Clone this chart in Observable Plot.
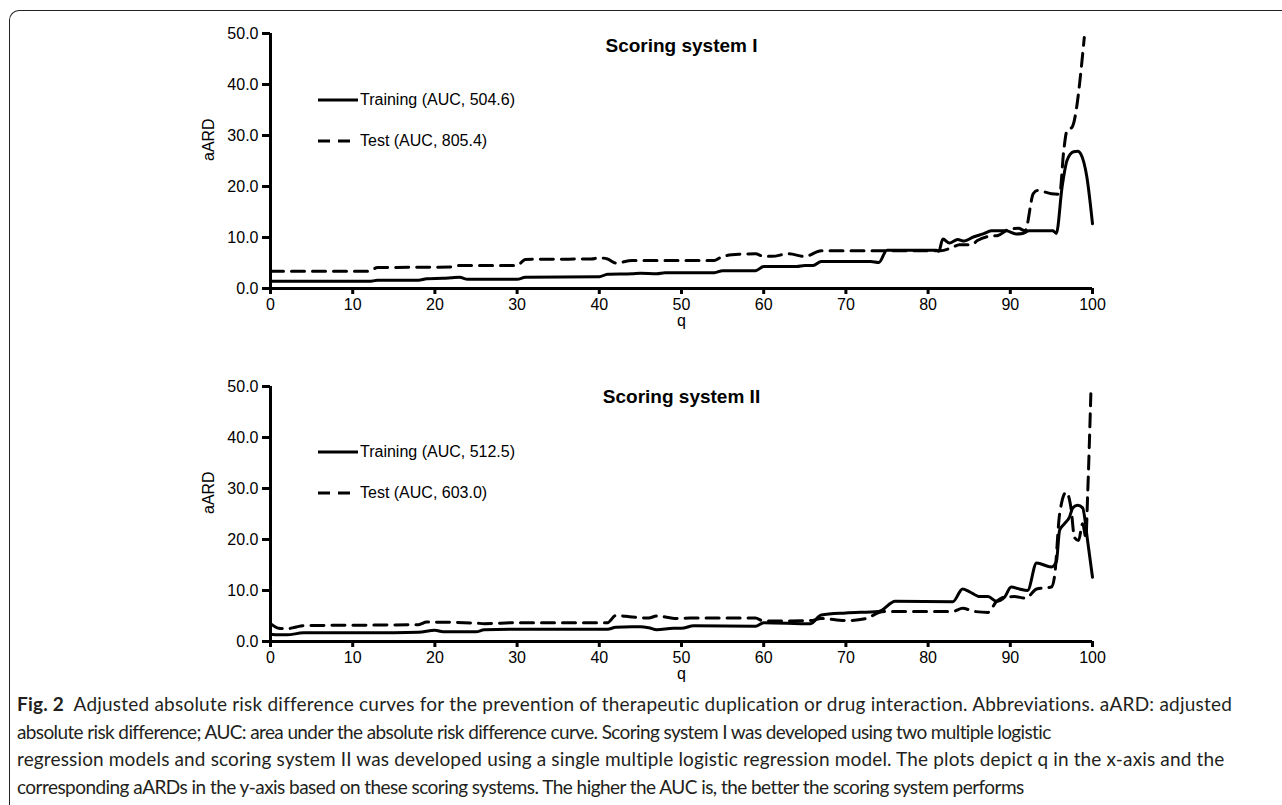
<!DOCTYPE html>
<html>
<head>
<meta charset="utf-8">
<script src="https://cdn.jsdelivr.net/npm/d3@7"></script>
<script src="https://cdn.jsdelivr.net/npm/@observablehq/plot@0.6"></script>
<style>
  html, body { margin: 0; padding: 0; background: #fff; }
  body { width: 1282px; height: 805px; position: relative; overflow: hidden; font-family: "Liberation Sans", Arial, sans-serif; }
  #frame { position: absolute; left: 9px; top: 10px; width: 1290px; height: 820px; border-top: 1.5px solid #222; border-left: 1.5px solid #222; border-top-left-radius: 10px; box-sizing: border-box; }
  .chart { position: absolute; left: 0; }
  .legend { position: absolute; left: 318px; font-size: 16px; color: #000; }
  .legend .item { position: absolute; left: 0; height: 20px; display: flex; align-items: center; white-space: nowrap; }
  .legend svg { display: block; margin-right: 2px; }
  #caption { position: absolute; left: 17px; top: 690px; font-family: Lato, "Open Sans", sans-serif; font-size: 19px; color: #231f20; }
  #caption .ln { height: 27.5px; line-height: 27.5px; white-space: nowrap; }
</style>
</head>
<body>
<div id="frame"></div>
<div id="chart1" class="chart" style="top:0px"></div>
<div id="chart2" class="chart" style="top:340px"></div>
<div id="legend1" class="legend" style="top:90px"></div>
<div id="legend2" class="legend" style="top:442px"></div>
<div id="caption"></div>
<script>
// ---------- data ----------
const xTicks = [0, 10, 20, 30, 40, 50, 60, 70, 80, 90, 100];
const yTicks = [0, 10, 20, 30, 40, 50];

const titles = ["Scoring system I", "Scoring system II"];
const trainLabels = ["Training (AUC, 504.6)", "Training (AUC, 512.5)"];
const testLabels = ["Test (AUC, 805.4)", "Test (AUC, 603.0)"];
const xLabel = "q";
const yLabel = "aARD";

// Scoring system I – Training
const q1Train = [0,12,13,18,19,21,22,23,24,30,31,40,41,44,45,47,48,54,55,59,60,64,65,66,67,73,74,75,81,81.3,81.8,82.6,83.6,84.4,85.5,86.7,87.7,89.5,90.7,91.5,92.3,95.2,95.6,96.3,96.9,97.7,98.2,98.6,99.3,100];
const v1Train = [1.4,1.4,1.6,1.6,1.9,2.0,2.1,2.2,1.8,1.8,2.2,2.3,2.8,2.9,3.0,2.9,3.1,3.1,3.5,3.5,4.3,4.3,4.5,4.5,5.3,5.3,5.1,7.5,7.5,7.3,9.7,8.9,9.6,9.3,10.1,10.7,11.3,11.3,10.7,10.8,11.3,11.3,10.8,19.9,25.1,26.8,26.9,26.3,22.0,12.7];

// Scoring system I – Test
const q1Test = [0,12,13,22,23,30,31,39,40,41,42,44,54,55,57,59,60,61,63,65,67,74,81.5,83,83.8,85.3,86,87.3,88.5,89.7,91,91.8,92.8,93.3,95,96,96.5,96.9,97.5,99];
const v1Test = [3.4,3.4,4.1,4.2,4.5,4.5,5.7,5.8,6.0,5.8,5.0,5.5,5.5,6.3,6.7,6.8,6.3,6.3,6.8,6.3,7.4,7.4,7.4,8.1,8.6,8.6,9.4,10.2,10.4,11.5,11.8,11.3,18.6,19.2,18.6,18.5,27.0,31.0,31.6,49.2];

// Scoring system II – Training
const q2Train = [0,1,2,4,12,18,20,21,25,26,30,41,42,44,45,46,47,49,50,51.5,59,60,65.7,67,70,74,76,83,84.2,85,86.3,87.3,88.3,89.3,90.1,91.1,92.1,93.2,95,95.6,96,96.6,97.2,97.6,98.2,98.8,99.4,100];
const v2Train = [1.4,1.3,1.3,1.7,1.7,1.8,2.2,1.9,1.9,2.3,2.4,2.4,2.8,2.9,2.9,2.7,2.3,2.6,2.6,3.1,3.0,3.7,3.5,5.2,5.6,5.9,7.9,7.8,10.3,9.8,8.8,8.8,7.9,8.7,10.7,10.3,10.0,15.4,14.6,15.6,21.8,23.1,24.4,26.2,26.7,26.2,19.8,12.6];

// Scoring system II – Test
const q2Test = [0,1,2,3,4,18,19,25,26,30,41,42,44,46,47,49.4,51,59,60,65.7,67,70,72.5,74,75,83,84.2,85.6,87.3,88.3,89.3,90.5,91.9,93.2,95,95.4,96,96.8,97.4,97.8,98.3,98.8,99.2,99.4,99.8];
const v2Test = [3.5,2.6,2.5,2.8,3.1,3.3,3.8,3.6,3.5,3.7,3.7,5.1,4.8,4.6,5.0,4.5,4.6,4.6,4.0,4.1,4.5,4.1,4.5,5.7,5.9,5.9,6.5,5.9,5.7,7.8,8.7,8.8,8.5,10.3,10.7,13.0,25.0,29.3,26.0,20.4,19.8,23.1,20.4,28.3,48.6];

const captionLines = [
  ["Fig. 2", "  Adjusted absolute risk difference curves for the prevention of therapeutic duplication or drug interaction. Abbreviations. aARD: adjusted"],
  ["", "absolute risk difference; AUC: area under the absolute risk difference curve. Scoring system I was developed using two multiple logistic"],
  ["", "regression models and scoring system II was developed using a single multiple logistic regression model. The plots depict q in the x-axis and the"],
  ["", "corresponding aARDs in the y-axis based on these scoring systems. The higher the AUC is, the better the scoring system performs"]
];
const captionWidths = [1216, 1033, 1208, 1006];

// ---------- build ----------
const toRows = (qs, vs) => qs.map((q, i) => ({q, v: vs[i]}));
const DASH = "13,8";

function makeChart(title, train, test, m) {
  return Plot.plot({
    width: 1282, height: m.height,
    marginLeft: 270, marginRight: 190, marginTop: m.top, marginBottom: m.bottom,
    x: {domain: [0, 100]},
    y: {domain: [0, 50]},
    style: {fontFamily: "'Liberation Sans', Arial, sans-serif", fontSize: "16px", color: "#000", background: "transparent", overflow: "visible"},
    marks: [
      Plot.axisX({ticks: xTicks, tickSize: 6, strokeWidth: 3, tickPadding: 4, label: null, fill: "#000", fontSize: 16}),
      Plot.axisY({ticks: yTicks, tickSize: 8, strokeWidth: 3, tickPadding: 4, tickFormat: d3.format(".1f"), label: null, fill: "#000", fontSize: 16}),
      Plot.ruleX([0], {strokeWidth: 3, stroke: "#000"}),
      Plot.ruleY([0], {strokeWidth: 3, stroke: "#000"}),
      Plot.line(train, {x: "q", y: "v", curve: "monotone-x", stroke: "#000", strokeWidth: 3}),
      Plot.line(test, {x: "q", y: "v", curve: "monotone-x", stroke: "#000", strokeWidth: 3, strokeDasharray: DASH}),
      Plot.text([title], {text: d => d, frameAnchor: "top", dy: m.titleDy, fontWeight: "bold", fontSize: 19, fill: "#000"}),
      Plot.text([yLabel], {text: d => d, frameAnchor: "left", rotate: -90, dx: -62, fontSize: 16, fill: "#000"}),
      Plot.text([xLabel], {text: d => d, frameAnchor: "bottom", dy: 37, fontSize: 16, fill: "#000"})
    ]
  });
}

document.getElementById("chart1").appendChild(
  makeChart(titles[0], toRows(q1Train, v1Train), toRows(q1Test, v1Test), {height: 340, top: 33, bottom: 52, titleDy: 5})
);
document.getElementById("chart2").appendChild(
  makeChart(titles[1], toRows(q2Train, v2Train), toRows(q2Test, v2Test), {height: 355, top: 46, bottom: 54, titleDy: 3})
);

function buildLegend(id, trainText, testText) {
  const el = document.getElementById(id);
  const mk = (top, dashed, label) => {
    const it = document.createElement("div");
    it.className = "item";
    it.style.top = top + "px";
    it.innerHTML = `<svg width="40" height="6"><line x1="0" x2="${dashed ? 33 : 40}" y1="3" y2="3" stroke="#000" stroke-width="3" ${dashed ? 'stroke-dasharray="12,8"' : ''}/></svg><span>${label}</span>`;
    el.appendChild(it);
  };
  mk(0, false, trainText);
  mk(41, true, testText);
}
buildLegend("legend1", trainLabels[0], testLabels[0]);
buildLegend("legend2", trainLabels[1], testLabels[1]);

const cap = document.getElementById("caption");
captionLines.forEach(([b, t]) => {
  const d = document.createElement("div");
  d.className = "ln";
  const s = document.createElement("span");
  if (b) { const bb = document.createElement("b"); bb.textContent = b; s.appendChild(bb); }
  s.appendChild(document.createTextNode(t));
  s.style.whiteSpace = "pre";
  d.appendChild(s);
  cap.appendChild(d);
});
function fitCaption() {
  cap.querySelectorAll(".ln > span").forEach((s, i) => {
    s.style.letterSpacing = "0px";
    const w = s.getBoundingClientRect().width;
    const n = s.textContent.length;
    s.style.letterSpacing = ((captionWidths[i] - w) / n) + "px";
  });
}
fitCaption();
if (document.fonts && document.fonts.ready) document.fonts.ready.then(fitCaption);
</script>
</body>
</html>
